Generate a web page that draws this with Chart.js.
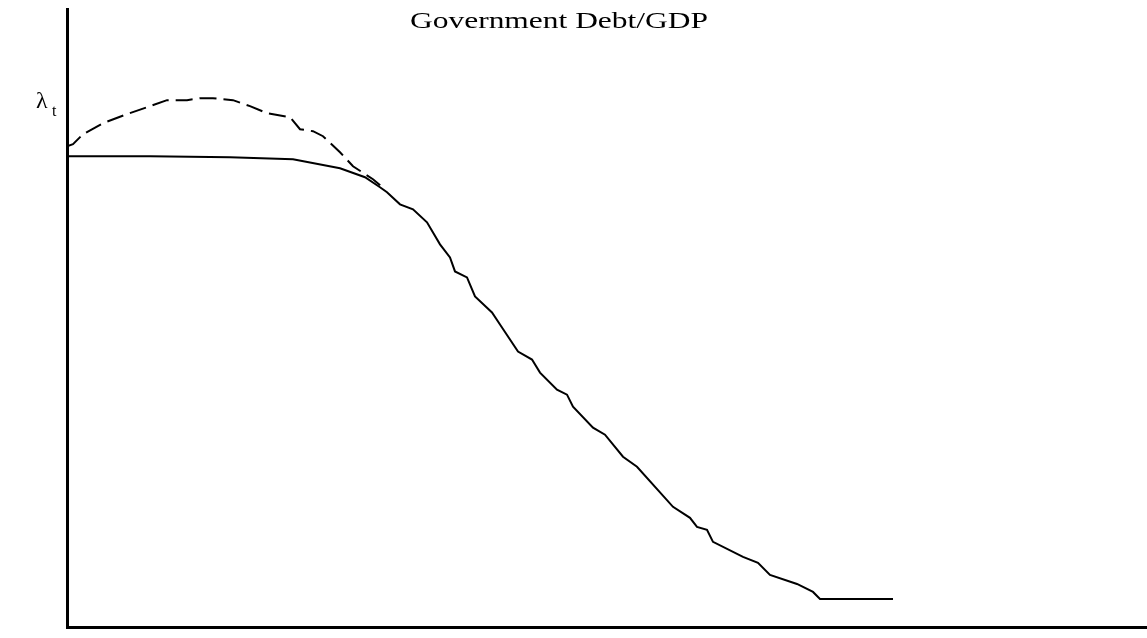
<!DOCTYPE html>
<html>
<head>
<meta charset="utf-8">
<script src="https://cdn.jsdelivr.net/npm/chart.js@4/dist/chart.umd.min.js"></script>
<style>
  html, body { margin: 0; padding: 0; background: #ffffff; }
  #wrap { width: 1147px; height: 638px; position: relative; }
</style>
</head>
<body>
<div id="wrap"><canvas id="c" width="1147" height="638"></canvas></div>
<script>
// ---- Data (time t, debt/GDP level λ_t, arbitrary units) ----
const titleText = "Government Debt/GDP";
const yAxisLabel = "λ";
const yAxisSub = "t";

const solidT = [0, 8.3, 16.3, 22.6, 27.3, 29.8, 31.3, 32.0, 33.3, 34.6, 36.0, 37.3, 38.3, 38.8, 40.0, 40.8, 42.5, 43.3, 45.1, 46.5, 47.3, 49.0, 50.0, 50.6, 52.6, 53.8, 55.6, 57.0, 60.6, 62.3, 63.0, 64.0, 64.6, 67.6, 69.1, 70.3, 73.0, 74.6, 75.3, 82.6];
const solidLambda = [47.0, 47.0, 46.9, 46.7, 45.8, 44.9, 43.9, 43.4, 42.2, 41.7, 40.4, 38.2, 36.9, 35.5, 34.9, 33.0, 31.4, 30.2, 27.5, 26.7, 25.4, 23.7, 23.2, 22.0, 19.9, 19.2, 17.0, 16.0, 12.0, 10.9, 10.0, 9.7, 8.5, 7.0, 6.4, 5.2, 4.3, 3.5, 2.8, 2.8];

const dashedT = [0, 0.6, 1.6, 3.6, 6.0, 8.3, 10.0, 12.0, 13.3, 14.6, 16.6, 18.3, 20.0, 22.3, 23.3, 24.6, 25.6, 27.3, 28.6, 30.6, 31.8];
const dashedLambda = [48.0, 48.2, 49.2, 50.3, 51.2, 52.0, 52.6, 52.6, 52.8, 52.8, 52.6, 52.0, 51.3, 50.9, 49.7, 49.5, 49.0, 47.4, 46.0, 44.7, 43.7];

const xMin = 0, xMax = 108;
const yMin = 0, yMax = 61.7;

const toPts = (xs, ys) => xs.map((x, i) => ({ x: x, y: ys[i] }));

const labelsPlugin = {
  id: 'labelsPlugin',
  afterDraw(chart) {
    const ctx = chart.ctx;
    // Title (horizontally stretched serif, as in the scanned original)
    ctx.save();
    ctx.fillStyle = '#000';
    ctx.font = '24px "Liberation Serif", "DejaVu Serif", serif';
    ctx.textBaseline = 'alphabetic';
    const w = ctx.measureText(titleText).width;
    const targetW = 298;
    const sx = targetW / w;
    const cx = 559;
    ctx.translate(cx - targetW / 2, 28);
    ctx.scale(sx, 1);
    ctx.fillText(titleText, 0, 0);
    ctx.restore();

    // Y label λ_t
    ctx.save();
    ctx.fillStyle = '#000';
    ctx.font = '24px "Liberation Serif", "DejaVu Serif", serif';
    ctx.textBaseline = 'alphabetic';
    ctx.fillText(yAxisLabel, 36, 108);
    ctx.font = '16px "Liberation Serif", "DejaVu Serif", serif';
    ctx.fillText(yAxisSub, 52, 116);
    ctx.restore();
  }
};

new Chart(document.getElementById('c'), {
  type: 'line',
  data: {
    datasets: [
      {
        label: 'solid',
        data: toPts(solidT, solidLambda),
        borderColor: '#000',
        borderWidth: 2,
        pointRadius: 0,
        tension: 0,
        fill: false
      },
      {
        label: 'dashed',
        data: toPts(dashedT, dashedLambda),
        borderColor: '#000',
        borderWidth: 2,
        borderDash: [17, 7],
        pointRadius: 0,
        tension: 0,
        fill: false
      }
    ]
  },
  options: {
    responsive: false,
    animation: false,
    devicePixelRatio: 1,
    layout: { padding: { left: 67, top: 9, right: 0, bottom: 11 } },
    plugins: {
      legend: { display: false },
      title: { display: false },
      tooltip: { enabled: false }
    },
    scales: {
      x: {
        type: 'linear',
        min: xMin, max: xMax,
        grid: { display: false, drawTicks: false },
        ticks: { display: false },
        border: { display: true, color: '#000', width: 3 }
      },
      y: {
        type: 'linear',
        min: yMin, max: yMax,
        grid: { display: false, drawTicks: false },
        ticks: { display: false },
        border: { display: true, color: '#000', width: 3 }
      }
    }
  },
  plugins: [labelsPlugin]
});
</script>
</body>
</html>
